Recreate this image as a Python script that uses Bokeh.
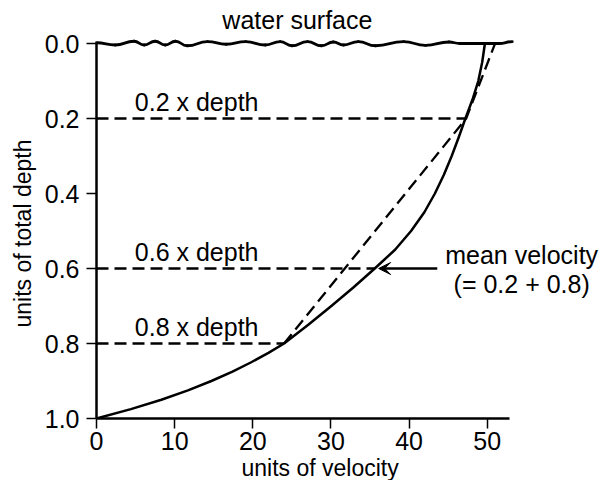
from bokeh.plotting import figure
from bokeh.models import Range1d, FixedTicker, PrintfTickFormatter, Label, Arrow, VeeHead, ColumnDataSource, Title
from bokeh.embed import file_html
from bokeh.resources import INLINE

# ---- data ----
curve_depth = [0.0, 0.05, 0.1, 0.15, 0.2, 0.25, 0.3, 0.35, 0.4, 0.45, 0.5, 0.55, 0.6, 0.65, 0.7, 0.75,
               0.8, 0.825, 0.85, 0.875, 0.9, 0.925, 0.95, 0.975, 1.0]
curve_vel = [49.7, 49.35, 48.85, 48.1, 47.2, 46.35, 45.45, 44.45, 43.3, 41.95, 40.25, 38.2, 35.6, 32.9,
             30.05, 27.1, 24.0, 22.0, 19.8, 17.4, 14.7, 11.7, 8.3, 4.4, 0.0]

mean_depth = [0.8, 0.2, 0.0]
mean_vel = [24.0, 47.3, 51.0]

sample_depth = [0.2, 0.6, 0.8]
sample_vel = [47.2, 35.6, 24.0]
sample_labels = ["0.2 x depth", "0.6 x depth", "0.8 x depth"]

wave_x = [0.0, 2.4, 4.8, 6.1, 7.5, 8.8, 10.1, 11.6, 14.2, 16.6, 19.1, 21.6, 23.5, 25.0, 27.0, 28.8,
          30.3, 31.6, 33.5, 35.7, 39.3, 42.1, 45.1, 46.5, 51.5, 53.2]
wave_y = [-0.002, 0.004, -0.006, 0.004, -0.006, 0.004, -0.006, 0.006, -0.005, 0.002, -0.005, 0.004,
          -0.005, 0.006, -0.005, 0.006, -0.004, 0.004, -0.005, 0.006, -0.005, 0.005, -0.004, 0.0, 0.0, -0.005]

x_ticks = [0, 10, 20, 30, 40, 50]
y_ticks = [0.0, 0.2, 0.4, 0.6, 0.8, 1.0]

FONT = "Liberation Sans"
TXT = "25px"

p = figure(output_backend="svg", toolbar_location=None,
           frame_width=508, frame_height=418, width=604, height=480,
           x_range=Range1d(0, 65.0), y_range=Range1d(1.0, -0.1147),
           min_border_left=96, min_border_top=0, min_border_right=0, min_border_bottom=62)
p.outline_line_color = None
p.grid.visible = False
p.background_fill_color = "white"
p.border_fill_color = "white"

for ax in (p.xaxis[0], p.yaxis[0]):
    ax.axis_line_width = 2.5
    ax.axis_line_color = "black"
    ax.major_tick_line_width = 1.5
    ax.major_tick_line_color = "black"
    ax.major_tick_out = 10
    ax.major_tick_in = 0
    ax.minor_tick_line_color = None
    ax.major_label_text_font = FONT
    ax.major_label_text_font_size = TXT
    ax.major_label_text_color = "black"

p.xaxis.bounds = (0, 52.8)
p.yaxis.bounds = (-0.005, 1.0)
p.xaxis.ticker = FixedTicker(ticks=x_ticks)
p.yaxis.ticker = FixedTicker(ticks=y_ticks)
p.yaxis.formatter = PrintfTickFormatter(format="%.1f")
p.xaxis.major_label_standoff = 3
p.yaxis.major_label_standoff = 7

# axis titles (placed as side titles so they can be offset like the reference)
p.add_layout(Title(text="units of velocity", align="left", offset=145, standoff=0,
                   text_font=FONT, text_font_size="23px", text_font_style="normal",
                   text_color="black"), "below")
p.add_layout(Title(text="units of total depth", align="left", offset=91, standoff=8,
                   vertical_align="top",
                   text_font=FONT, text_font_size="23px", text_font_style="normal",
                   text_color="black"), "left")

# water surface: smooth wave from bezier segments
mid = [(a + b) / 2 for a, b in zip(wave_x[:-1], wave_x[1:])]
wsrc = ColumnDataSource(dict(
    x0=wave_x[:-1], y0=wave_y[:-1], x1=wave_x[1:], y1=wave_y[1:],
    cx0=mid, cy0=wave_y[:-1], cx1=mid, cy1=wave_y[1:]))
p.bezier(x0="x0", y0="y0", x1="x1", y1="y1", cx0="cx0", cy0="cy0", cx1="cx1", cy1="cy1",
         source=wsrc, line_color="black", line_width=2.8, line_cap="round")

# horizontal sample lines
p.segment(x0=[0] * len(sample_depth), y0=sample_depth, x1=sample_vel, y1=sample_depth,
          line_color="black", line_width=2.3, line_dash="12 6")

# velocity profile
p.line(curve_vel, curve_depth, line_color="black", line_width=2.5, line_join="round")
# mean line (dashed)
p.line(mean_vel, mean_depth, line_color="black", line_width=2.3, line_dash="12 6")

# labels
for lab, d in zip(sample_labels, sample_depth):
    p.add_layout(Label(x=4.9, y=d - 0.045, text=lab, text_font=FONT, text_font_size=TXT,
                       text_baseline="middle", text_align="left", text_color="black"))

p.add_layout(Label(x=25.7, y=-0.064, text="water surface", text_font=FONT, text_font_size=TXT,
                   text_baseline="middle", text_align="center", text_color="black"))
p.add_layout(Label(x=54.4, y=0.565, text="mean velocity", text_font=FONT, text_font_size=TXT,
                   text_baseline="middle", text_align="center", text_color="black"))
p.add_layout(Label(x=54.4, y=0.64, text="(= 0.2 + 0.8)", text_font=FONT, text_font_size=TXT,
                   text_baseline="middle", text_align="center", text_color="black"))

p.add_layout(Arrow(end=VeeHead(size=12, fill_color="black", line_color="black"),
                   x_start=43.6, y_start=0.6, x_end=36.1, y_end=0.6,
                   line_color="black", line_width=2.3))

open("out.html", "w").write(file_html(p, INLINE))
